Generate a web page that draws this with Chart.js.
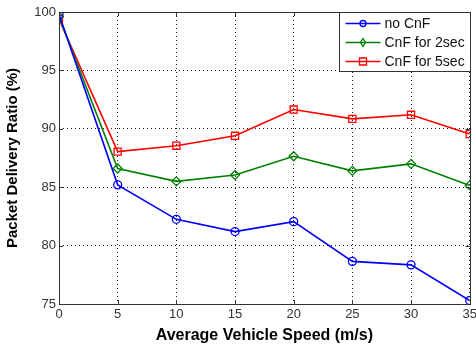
<!DOCTYPE html>
<html>
<head>
<meta charset="utf-8">
<script src="https://cdn.jsdelivr.net/npm/chart.js@4"></script>
<style>
  html, body { margin: 0; padding: 0; background: #fff; }
  #wrap { width: 476px; height: 347px; }
</style>
</head>
<body>
<div id="wrap"><canvas id="LineChart"></canvas></div>
<script>
// speeds on the x axis (m/s)
const speeds = [0, 5, 10, 15, 20, 25, 30, 35];
// packet delivery ratio (%) for each run
const noCnf = [99.8, 85.2, 82.25, 81.2, 82.05, 78.65, 78.35, 75.3];
const cnf2sec = [99.6, 86.6, 85.5, 86.05, 87.65, 86.4, 87.0, 85.15];
const cnf5sec = [99.4, 88.05, 88.55, 89.4, 91.65, 90.85, 91.2, 89.55];
const seriesNames = ['no CnF', 'CnF for 2sec', 'CnF for 5sec'];
const xTicks = [0, 5, 10, 15, 20, 25, 30, 35];
const yTicks = [75, 80, 85, 90, 95, 100];

const toPoints = (vals) => vals.map((v, i) => ({ x: speeds[i], y: v }));

// box round the plot and the legend, matlab style
const boxPlugin = {
  id: 'boxPlugin',
  afterDatasetsDraw(chart) {
    const { ctx, chartArea: a } = chart;
    ctx.save();
    ctx.strokeStyle = '#333';
    ctx.lineWidth = 1;
    ctx.setLineDash([]);
    ctx.strokeRect(Math.round(a.left) + 0.5, Math.round(a.top) + 0.5,
      Math.round(a.right - a.left), Math.round(a.bottom - a.top));

    // small inward tick marks
    const xs = chart.scales.x, ys = chart.scales.y;
    ctx.beginPath();
    xTicks.forEach((t) => {
      const px = Math.round(xs.getPixelForValue(t)) + 0.5;
      ctx.moveTo(px, a.bottom); ctx.lineTo(px, a.bottom - 4);
      ctx.moveTo(px, a.top); ctx.lineTo(px, a.top + 4);
    });
    yTicks.forEach((t) => {
      const py = Math.round(ys.getPixelForValue(t)) + 0.5;
      ctx.moveTo(a.left, py); ctx.lineTo(a.left + 4, py);
      ctx.moveTo(a.right, py); ctx.lineTo(a.right - 4, py);
    });
    ctx.stroke();

    // legend box in the top right corner
    const lx = 339.5, ly = Math.round(a.top) + 0.5, lw = Math.round(a.right) - 339, lh = 59;
    ctx.fillStyle = '#fff';
    ctx.fillRect(lx, ly, lw, lh);
    ctx.strokeStyle = '#333';
    ctx.strokeRect(lx, ly, lw, lh);
    ctx.font = '14px "Liberation Sans", Arial, sans-serif';
    ctx.textBaseline = 'middle';
    chart.data.datasets.forEach((ds, i) => {
      const cy = ly + 11 + i * 19;
      ctx.strokeStyle = ds.borderColor;
      ctx.lineWidth = 1.5;
      ctx.beginPath();
      ctx.moveTo(lx + 6, cy); ctx.lineTo(lx + 41, cy);
      ctx.stroke();
      ctx.lineWidth = 1.3;
      ctx.beginPath();
      const mx = lx + 23.5;
      if (ds.pointStyle === 'circle') {
        ctx.arc(mx, cy, 3, 0, Math.PI * 2);
      } else if (ds.pointStyle === 'rectRot') {
        ctx.moveTo(mx, cy - 4); ctx.lineTo(mx + 2.5, cy); ctx.lineTo(mx, cy + 4); ctx.lineTo(mx - 2.5, cy); ctx.closePath();
      } else {
        ctx.rect(mx - 3.5, cy - 3.5, 7, 7);
      }
      ctx.stroke();
      ctx.fillStyle = '#111';
      ctx.fillText(ds.label, lx + 45, cy + 1);
    });
    ctx.restore();
  }
};

const ctx = document.getElementById('LineChart').getContext('2d');
new Chart(ctx, {
  type: 'line',
  data: {
    datasets: [
      {
        label: seriesNames[0],
        data: toPoints(noCnf),
        borderColor: '#0000ff',
        backgroundColor: 'rgba(0,0,0,0)',
        pointStyle: 'circle',
        pointRadius: 4,
        pointBorderWidth: 1.3,
        borderWidth: 1.6,
      },
      {
        label: seriesNames[1],
        data: toPoints(cnf2sec),
        borderColor: '#008000',
        backgroundColor: 'rgba(0,0,0,0)',
        pointStyle: 'rectRot',
        pointRadius: 4.5,
        pointBorderWidth: 1.3,
        borderWidth: 1.6,
      },
      {
        label: seriesNames[2],
        data: toPoints(cnf5sec),
        borderColor: '#ff0000',
        backgroundColor: 'rgba(0,0,0,0)',
        pointStyle: 'rect',
        pointRadius: 5,
        pointBorderWidth: 1.3,
        borderWidth: 1.6,
      },
    ],
  },
  options: {
    responsive: true,
    maintainAspectRatio: false,
    animation: false,
    layout: { padding: { left: 0, top: 12, right: 6, bottom: 0 } },
    plugins: {
      legend: { display: false },
      tooltip: { enabled: false },
    },
    scales: {
      x: {
        type: 'linear',
        min: 0,
        max: 35,
        afterBuildTicks: (s) => { s.ticks = xTicks.map((v) => ({ value: v })); },
        afterFit: (s) => { s.height = 43; s.paddingRight = 0; s.paddingLeft = 0; },
        grid: { color: '#222', lineWidth: 1, drawTicks: false },
        border: { display: false, dash: [1, 3] },
        ticks: { color: '#333', padding: 3, maxRotation: 0,
          font: { family: '"Liberation Sans", Arial, sans-serif', size: 13 } },
        title: { display: true, text: 'Average Vehicle Speed (m/s)', color: '#000', padding: { top: 0, bottom: 2 },
          font: { family: '"Liberation Sans", Arial, sans-serif', size: 16, weight: 'bold' } },
      },
      y: {
        type: 'linear',
        min: 75,
        max: 100,
        afterBuildTicks: (s) => { s.ticks = yTicks.map((v) => ({ value: v })); },
        afterFit: (s) => { s.width = 59; },
        grid: { color: '#222', lineWidth: 1, drawTicks: false },
        border: { display: false, dash: [1, 3] },
        ticks: { color: '#333', padding: 3,
          font: { family: '"Liberation Sans", Arial, sans-serif', size: 13 } },
        title: { display: true, text: 'Packet Delivery Ratio (%)', color: '#000', padding: { top: 4, bottom: 0 },
          font: { family: '"Liberation Sans", Arial, sans-serif', size: 15, weight: 'bold' } },
      },
    },
  },
  plugins: [boxPlugin],
});
</script>
</body>
</html>
